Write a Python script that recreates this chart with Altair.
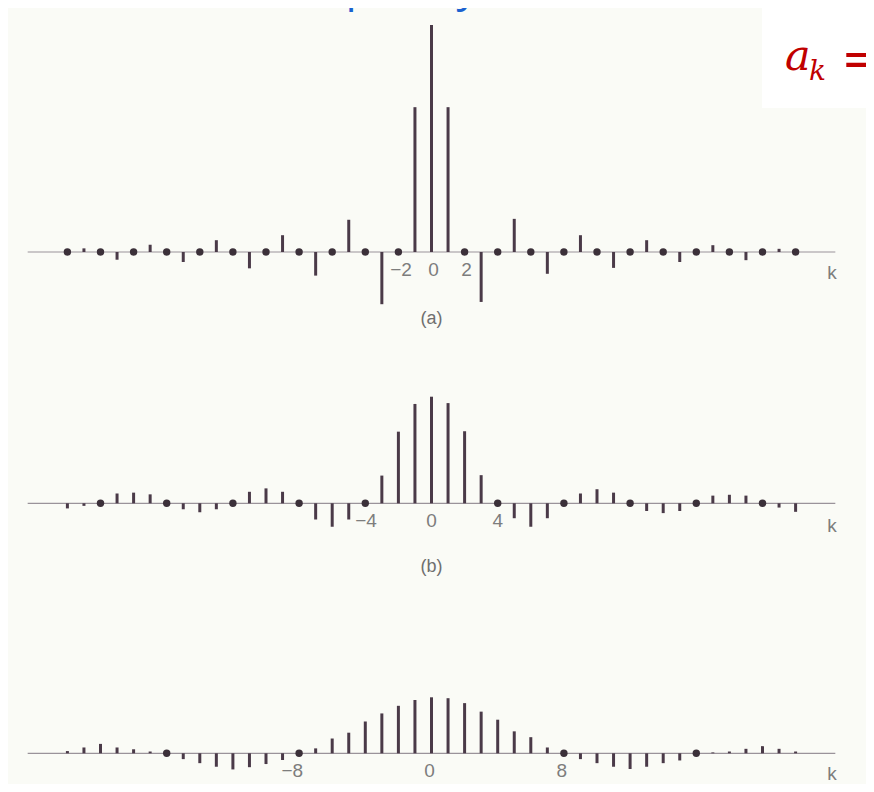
import altair as alt
import pandas as pd

# ---------------- data ----------------
k_index = list(range(-22, 23))

coef_a = [0, 0.008, 0, -0.017, 0, 0.016, 0, -0.022, 0, 0.026, 0, -0.036, 0, 0.037, 0, -0.052, 0, 0.071, 0, -0.115, 0, 0.319,
          0.5,
          0.319, 0, -0.110, 0, 0.073, 0, -0.048, 0, 0.037, 0, -0.035, 0, 0.026, 0, -0.022, 0, 0.015, 0, -0.018, 0, 0.007, 0]

coef_b = [-0.012, -0.006, 0, 0.023, 0.025, 0.021, 0, -0.014, -0.021, -0.014, 0, 0.027, 0.035, 0.027, 0, -0.038, -0.055, -0.038, 0, 0.065, 0.168, 0.233,
          0.25,
          0.235, 0.169, 0.066, 0, -0.035, -0.055, -0.035, 0, 0.023, 0.033, 0.025, 0, -0.018, -0.023, -0.018, 0, 0.018, 0.020, 0.018, 0, -0.010, -0.020]

coef_c = [0.005, 0.013, 0.021, 0.013, 0.009, 0.004, 0, -0.013, -0.022, -0.030, -0.036, -0.031, -0.024, -0.015, 0, 0.011, 0.033, 0.046, 0.071, 0.089, 0.106, 0.119,
          0.125,
          0.123, 0.112, 0.093, 0.075, 0.049, 0.036, 0.013, 0, -0.013, -0.022, -0.030, -0.035, -0.030, -0.022, -0.016, 0, 0.002, 0.004, 0.010, 0.016, 0.010, 0.004]

ticks_a = [-2, 0, 2]
ticks_b = [-4, 0, 4]
ticks_c = [-8, 0, 8]
panel_tags = ["(a)", "(b)"]
axis_name = "k"
title_text = "Frequency Domain"
formula_a = "a"
formula_k = "k"
formula_eq = "="

coef_df = pd.DataFrame({"k": k_index, "a": coef_a, "b": coef_b, "c": coef_c})

# ---------------- layout / style ----------------
W, H = 858, 776
BG = "#fafbf6"
BAR = "#4a3a48"
DOT = "#3b3039"
AXIS = "#9a939a"
LABEL = "#7d7d7d"
FONT = "Liberation Sans"

K0_PX, STEP = 423.5, 16.55
XS = alt.Scale(domain=[-K0_PX / STEP, (W - K0_PX) / STEP], nice=False, zero=False)


def ydom(base_px, unit_px):
    return [-(H - base_px) / unit_px, base_px / unit_px]


def panel(col, dom, ticks, neg_dx, pos_dx, tag, tag_dy, k_dy):
    ys = alt.Scale(domain=dom, nice=False, zero=False)
    src = alt.Chart(coef_df)
    xk = alt.X("k:Q", scale=XS, axis=None)

    line = alt.Chart(pd.DataFrame({"k": [0]})).mark_rule(color=AXIS, strokeWidth=1.2).encode(
        x=alt.XDatum(-24.4, scale=XS, axis=None),
        x2=alt.X2Datum(24.4),
        y=alt.YDatum(0, scale=ys, axis=None),
    )
    bars = src.transform_filter(f"datum.{col} != 0").mark_rule(color=BAR, strokeWidth=3).encode(
        x=xk,
        y=alt.Y(f"{col}:Q", scale=ys, axis=None),
        y2=alt.Y2Datum(0),
    )
    dots = src.transform_filter(f"datum.{col} == 0 && datum.k != 0").mark_circle(
        color=DOT, size=55, opacity=1
    ).encode(x=xk, y=alt.Y(f"{col}:Q", scale=ys, axis=None))

    tdf = pd.DataFrame({"k": ticks, "label": [("\u2212" + str(-t)) if t < 0 else str(t) for t in ticks]})
    neg = alt.Chart(tdf).transform_filter("datum.k < 0").mark_text(
        align="right", baseline="middle", dx=neg_dx, dy=18, font=FONT, fontSize=19, color=LABEL
    ).encode(x=xk, y=alt.YDatum(0, scale=ys, axis=None), text="label:N")
    pos = alt.Chart(tdf).transform_filter("datum.k >= 0").mark_text(
        align="center", baseline="middle", dx=pos_dx, dy=18, font=FONT, fontSize=19, color=LABEL
    ).encode(x=xk, y=alt.YDatum(0, scale=ys, axis=None), text="label:N")

    kl = alt.Chart(pd.DataFrame({"t": [axis_name]})).mark_text(
        align="center", baseline="middle", dy=k_dy, font=FONT, fontSize=19, color=LABEL
    ).encode(x=alt.XDatum(24.2, scale=XS, axis=None), y=alt.YDatum(0, scale=ys, axis=None), text="t:N")

    layers = [line, bars, dots, neg, pos, kl]
    if tag:
        tg = alt.Chart(pd.DataFrame({"t": [tag]})).mark_text(
            align="center", baseline="middle", dy=tag_dy, font=FONT, fontSize=18, color="#6f6f6f"
        ).encode(x=alt.XDatum(0, scale=XS, axis=None), y=alt.YDatum(0, scale=ys, axis=None), text="t:N")
        layers.append(tg)
    return alt.layer(*layers)


pa = panel("a", ydom(244, 454), ticks_a, 13.5, 2, panel_tags[0], 67, 21)
pb = panel("b", ydom(495.3, 426.4), ticks_b, 11.5, 0, panel_tags[1], 64, 23)
pc = panel("c", ydom(745.3, 448), ticks_c, 4, -2, None, 0, 21)

box = alt.Chart(pd.DataFrame({"t": [formula_a]})).mark_rect(color="white").encode(
    x=alt.value(754), x2=alt.value(870), y=alt.value(-10), y2=alt.value(100)
)
title = alt.Chart(pd.DataFrame({"t": [title_text]})).mark_text(
    align="center", baseline="alphabetic", font="Open Sans", fontSize=44, color="#1a62d0"
).encode(x=alt.value(450), y=alt.value(-7), text="t:N")

f_a = alt.Chart(pd.DataFrame({"t": [formula_a]})).mark_text(
    align="left", baseline="alphabetic", font="DejaVu Serif", fontStyle="italic", fontSize=43, color="#c00000"
).encode(x=alt.value(777), y=alt.value(62), text="t:N")
f_k = alt.Chart(pd.DataFrame({"t": [formula_k]})).mark_text(
    align="left", baseline="alphabetic", font="DejaVu Serif", fontStyle="italic", fontSize=28, color="#c00000"
).encode(x=alt.value(801), y=alt.value(72), text="t:N")
f_eq = alt.Chart(pd.DataFrame({"t": [formula_eq]})).mark_text(
    align="left", baseline="alphabetic", font="DejaVu Sans", fontSize=50, color="#c00000"
).encode(x=alt.value(833), y=alt.value(68), text="t:N")

chart = alt.layer(box, pa, pb, pc, title, f_a, f_k, f_eq).resolve_scale(y="independent").properties(
    width=W, height=H, autosize=alt.AutoSizeParams(type="none"), padding=0, background=BG
).configure_view(strokeWidth=0)

chart.save("out.html", embed_options={"renderer": "svg", "actions": False})
